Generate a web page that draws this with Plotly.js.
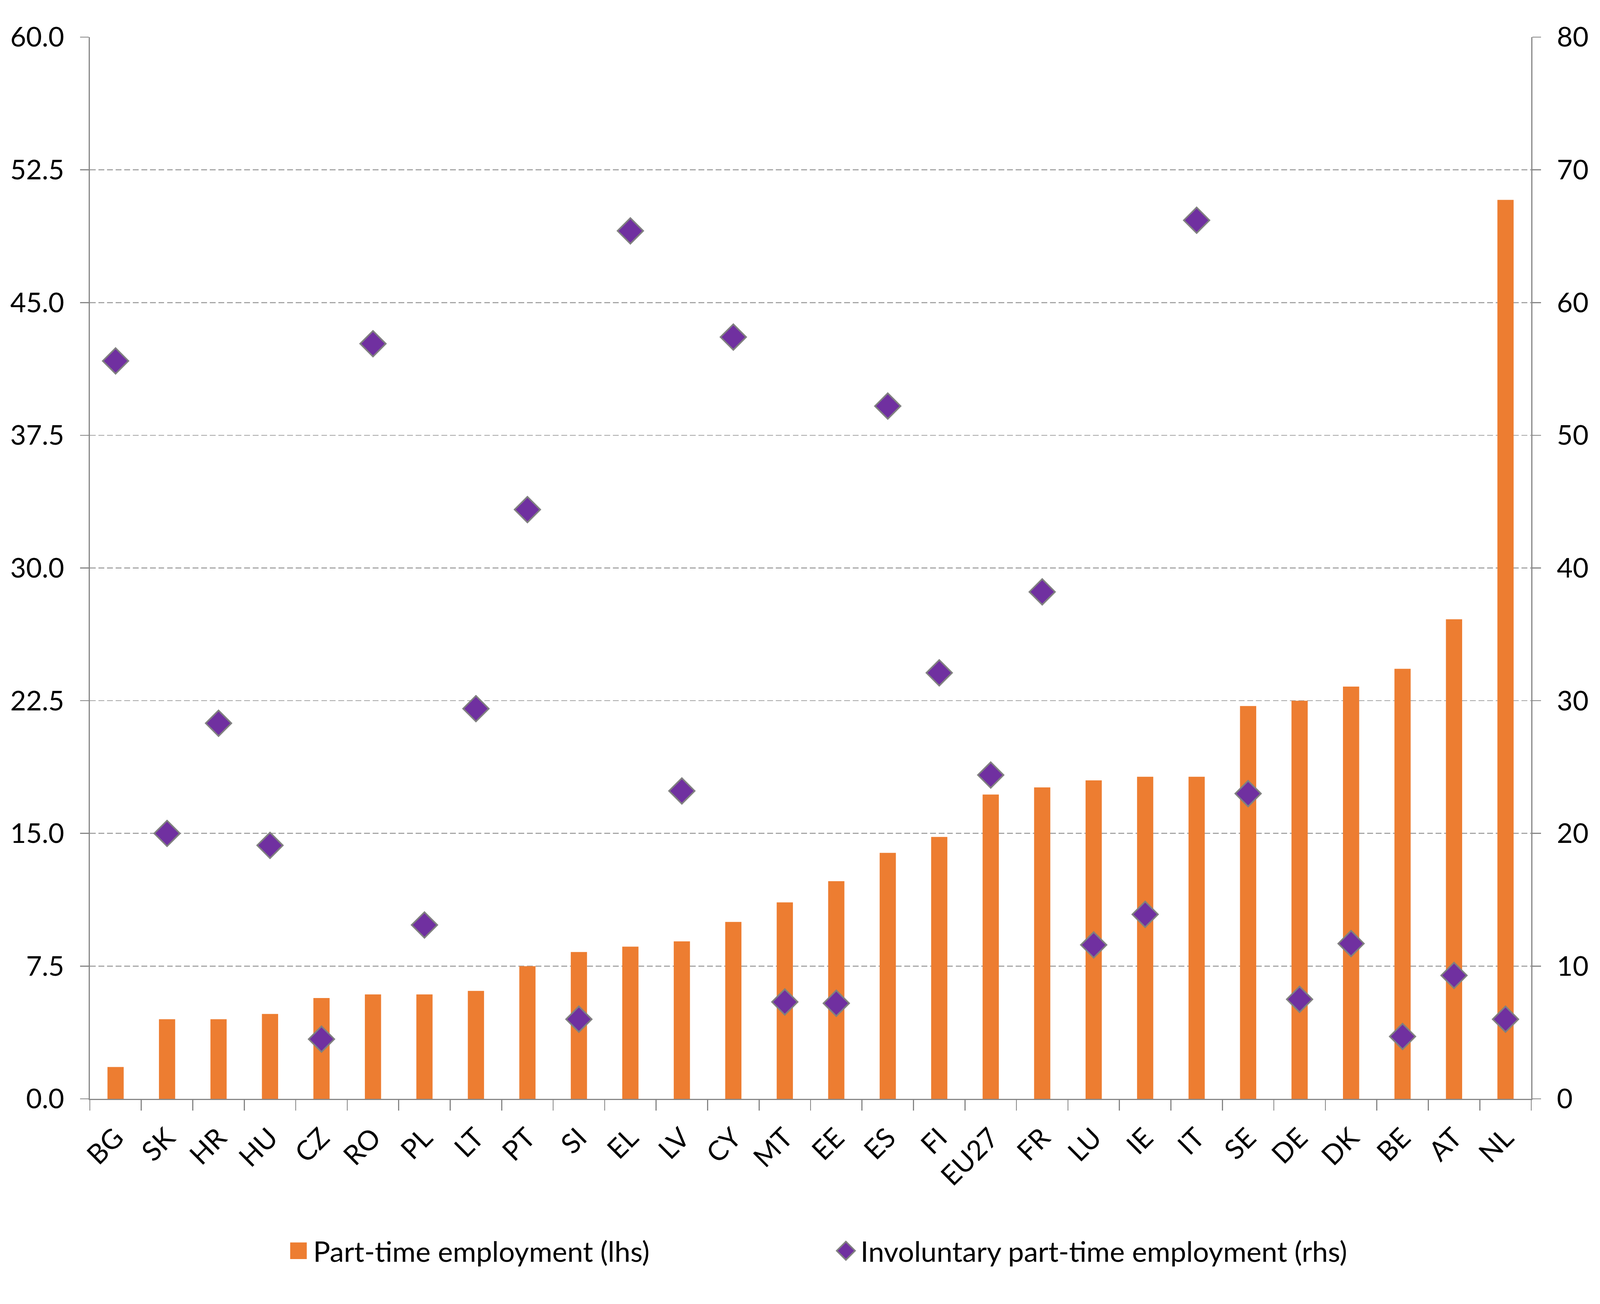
<!DOCTYPE html>
<html>
<head>
<meta charset="utf-8">
<script src="https://cdn.plot.ly/plotly-3.0.1.min.js"></script>
<style>
  html, body { margin: 0; padding: 0; background: #ffffff; overflow: hidden; }
  #chart { position: absolute; left: 0; top: 0; }
</style>
</head>
<body>
<div id="chart"></div>
<script>
  // country codes, sorted by part-time share
  var countries = ['BG', 'SK', 'HR', 'HU', 'CZ', 'RO', 'PL', 'LT', 'PT', 'SI', 'EL', 'LV', 'CY', 'MT',
    'EE', 'ES', 'FI', 'EU27', 'FR', 'LU', 'IE', 'IT', 'SE', 'DE', 'DK', 'BE', 'AT', 'NL'];

  // part-time employment, % (left axis)
  var partTime = [1.8, 4.5, 4.5, 4.8, 5.7, 5.9, 5.9, 6.1, 7.5, 8.3, 8.6, 8.9, 10.0, 11.1,
    12.3, 13.9, 14.8, 17.2, 17.6, 18.0, 18.2, 18.2, 22.2, 22.5, 23.3, 24.3, 27.1, 50.8];

  // involuntary part-time employment, % (right axis)
  var involuntary = [55.6, 20.0, 28.3, 19.1, 4.5, 56.9, 13.1, 29.4, 44.4, 6.0, 65.4, 23.2, 57.4, 7.3,
    7.2, 52.2, 32.1, 24.4, 38.2, 11.6, 13.9, 66.2, 23.0, 7.5, 11.7, 4.7, 9.3, 6.0];

  var leftTicks = [0, 7.5, 15, 22.5, 30, 37.5, 45, 52.5, 60];
  var rightTicks = [0, 10, 20, 30, 40, 50, 60, 70, 80];

  // positions are measured on a 5226 x 3337 picture and scaled to the real window
  var W = window.innerWidth || 5226;
  var H = window.innerHeight || 3337;
  var kx = W / 5226;
  var ky = H / 3337;
  var kf = Math.sqrt(kx * ky);
  function sx(v) { return v * kx; }
  function sy(v) { return v * ky; }
  function sf(v) { return v * kf; }

  var fontFamily = 'Lato, "Open Sans", sans-serif';
  var tickFont = { family: fontFamily, size: sf(79), color: '#000000' };

  var bars = {
    x: countries,
    y: partTime,
    type: 'bar',
    name: 'Part-time employment (lhs)',
    marker: { color: '#ED7D31' }
  };

  var diamonds = {
    x: countries,
    y: involuntary,
    yaxis: 'y2',
    type: 'scatter',
    mode: 'markers',
    name: 'Involuntary part-time employment (rhs)',
    marker: {
      symbol: 'diamond',
      size: sf(57),
      color: '#7030A0',
      line: { color: '#808080', width: sf(4.5) }
    }
  };

  var mL = sx(293), mR = sx(225), mT = sy(95), mB = sy(3337 - 2812);
  var plotW = W - mL - mR;
  var plotH = H - mT - mB;

  // legend geometry (symbol centres at 977 and 2765, text 48 to the right)
  var itemGap = 5;
  var itemW = Math.max(30, 2 * (sx(48) - itemGap));
  var textGap = itemW + 2 * itemGap;
  var legendLeft = sx(977) - itemW / 2 - itemGap - 2;

  var axisCommon = {
    ticks: 'outside',
    tickwidth: sf(3),
    tickcolor: '#868686',
    showline: true,
    linecolor: '#868686',
    linewidth: sf(3),
    zeroline: false,
    tickfont: tickFont
  };

  var layout = {
    width: W,
    height: H,
    margin: { l: mL, r: mR, t: mT, b: mB },
    paper_bgcolor: '#ffffff',
    plot_bgcolor: '#ffffff',
    font: { family: fontFamily, size: sf(79), color: '#000000' },
    bargap: 0.685,
    showlegend: true,
    legend: {
      orientation: 'h',
      x: (legendLeft - mL) / plotW,
      xanchor: 'left',
      y: -(sy(3201 - 2812)) / plotH,
      yanchor: 'middle',
      itemwidth: itemW,
      entrywidth: sx(2765 - 977) - textGap - itemGap,
      entrywidthmode: 'pixels',
      font: { family: fontFamily, size: sf(82), color: '#000000' },
      bgcolor: 'rgba(0,0,0,0)',
      borderwidth: 0
    },
    xaxis: Object.assign({}, axisCommon, {
      type: 'category',
      range: [-0.5, countries.length - 0.5],
      tickangle: -45,
      tickson: 'boundaries',
      ticklen: sy(27),
      ticklabelstandoff: Math.round(sy(28)),
      showgrid: false
    }),
    yaxis: Object.assign({}, axisCommon, {
      range: [0, 60],
      tickvals: leftTicks,
      tickformat: '.1f',
      ticklen: sx(28),
      ticklabelstandoff: Math.round(sx(35)),
      showgrid: true,
      gridcolor: '#A6A6A6',
      gridwidth: sf(3),
      griddash: sx(19) + 'px,' + sx(9) + 'px'
    }),
    yaxis2: Object.assign({}, axisCommon, {
      range: [0, 80],
      tickvals: rightTicks,
      overlaying: 'y',
      side: 'right',
      ticklen: sx(28),
      ticklabelstandoff: Math.round(sx(35)),
      showgrid: false
    })
  };

  Plotly.newPlot('chart', [bars, diamonds], layout, { displayModeBar: false, staticPlot: true })
    .then(function () {
      // Plotly caps legend symbols at a small size; grow them to match the picture
      var traces = document.querySelectorAll('#chart .legend .traces');
      var wanted = [sf(48) / 12, sf(53) / 20.8];
      traces.forEach(function (t, i) {
        t.querySelectorAll('.legendpoints path').forEach(function (p) {
          var tr = p.getAttribute('transform') || '';
          p.setAttribute('transform', tr + ' scale(' + wanted[i] + ')');
          if (i === 1) {
            p.style.strokeWidth = (sf(4.5) / wanted[i]) + 'px';
          }
        });
      });
    });
</script>
</body>
</html>
